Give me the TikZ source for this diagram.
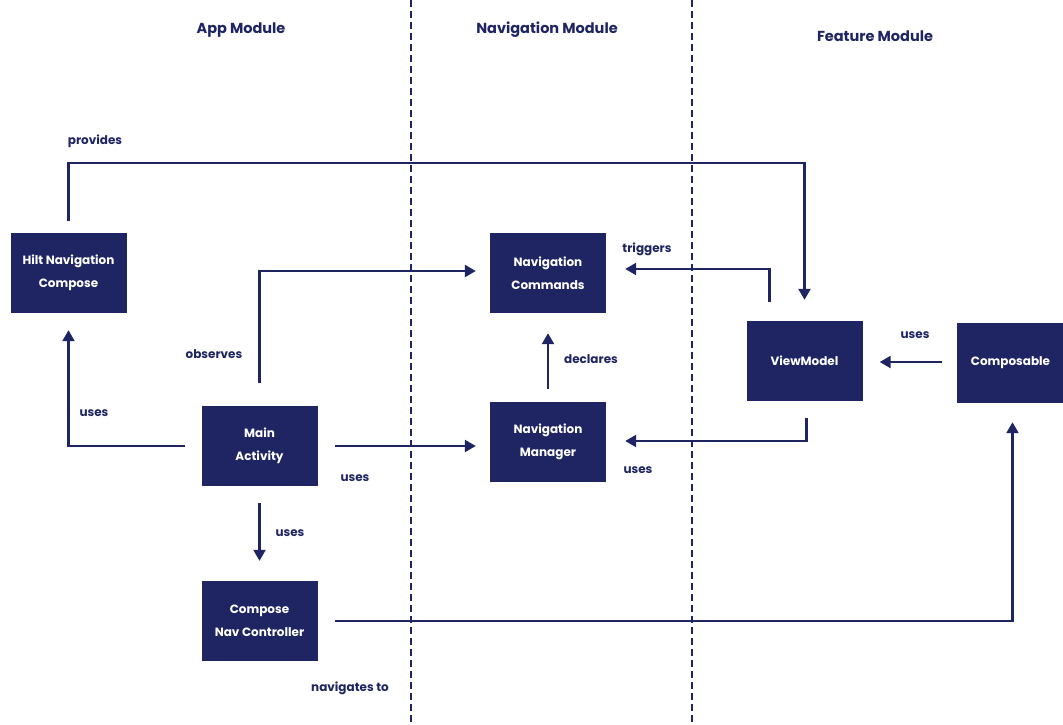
\documentclass[tikz,border=0pt]{standalone}
\usepackage{fontspec}
\setmainfont{Poppins}
\usetikzlibrary{arrows.meta}
\definecolor{navy}{HTML}{1F2563}
\begin{document}
\begin{tikzpicture}[x=1pt,y=-1pt,
  box/.style={fill=navy,draw=none,minimum width=116pt,minimum height=80pt,
    text=white,align=center,font=\fontsize{12}{23}\selectfont\bfseries,inner sep=0pt},
  lbl/.style={text=navy,font=\fontsize{12}{14}\selectfont\bfseries,inner sep=0pt},
  ttl/.style={text=navy,font=\fontsize{14.5}{16}\selectfont\bfseries,inner sep=0pt},
  lane/.style={navy,line width=1.4pt,dash pattern=on 7pt off 4pt},
  arr/.style={navy,line width=2.4pt,-{Triangle[length=11pt,width=12pt]}},
  line/.style={navy,line width=2.4pt}]
\useasboundingbox (0,0) rectangle (1063,724);

% lane separators
\coordinate (l1t) at (411,0); \coordinate (l1b) at (411,724);
\coordinate (l2t) at (692,0); \coordinate (l2b) at (692,724);
\draw[lane] (l1t) -- (l1b);
\draw[lane] (l2t) -- (l2b);

% module titles
\node[ttl] (tapp) at (241,30) {App Module};
\node[ttl] (tnav) at (547,30) {Navigation Module};
\node[ttl] (tfeat) at (875,36) {Feature Module};

% components
\node[box] (hilt) at (68.5,273) {Hilt Navigation\\Compose};
\node[box] (main) at (259.5,446) {Main\\Activity};
\node[box] (cnav) at (259.5,621) {Compose\\Nav Controller};
\node[box] (cmds) at (548,273) {Navigation\\Commands};
\node[box] (mgr) at (548,442) {Navigation\\Manager};
\node[box] (vm) at (804.5,361) {ViewModel};
\node[box,minimum width=107pt] (comp) at (1010.5,363) {Composable};

% connectors
\draw[arr,shorten <=12pt,shorten >=21pt] (hilt.north) -- ++(0,-70) -| (vm.north);
\draw[arr,shorten <=23pt,shorten >=14pt] (main.north) |- ([yshift=2pt]cmds.west);
\draw[arr,shorten <=16pt,shorten >=17pt] (main.west) -| (hilt.south);
\draw[arr,shorten <=17pt,shorten >=14pt] (main.east) -- (main.east -| mgr.west);
\draw[arr,shorten <=17pt,shorten >=20pt] (main.south) -- (cnav.north);
\draw[arr,shorten <=13pt,shorten >=20pt] (mgr.north) -- (cmds.south);
\draw[arr,shorten <=19pt,shorten >=19pt] ([xshift=-35pt]vm.north) |- ([yshift=4pt]cmds.east);
\draw[arr,shorten <=17pt,shorten >=19pt] ([xshift=2pt]vm.south) |- ([yshift=1pt]mgr.east);
\draw[arr,shorten <=15pt,shorten >=17pt] ([yshift=1pt]comp.west) -- ([yshift=1pt]comp.west -| vm.east);
\draw[arr,shorten <=17pt,shorten >=19pt] (cnav.east) -| ([xshift=2pt]comp.south);

% connector labels
\node[lbl] (lprov) at (95,141) {provides};
\node[lbl] (lobs) at (214,354) {observes};
\node[lbl] (luse1) at (94,413) {uses};
\node[lbl] (luse2) at (355,478) {uses};
\node[lbl] (luse3) at (290,533) {uses};
\node[lbl] (ldecl) at (591,359) {declares};
\node[lbl] (ltrig) at (647,249) {triggers};
\node[lbl] (luse4) at (638,470) {uses};
\node[lbl] (luse5) at (915,335) {uses};
\node[lbl] (lnav) at (350,688) {navigates to};
\end{tikzpicture}
\end{document}
